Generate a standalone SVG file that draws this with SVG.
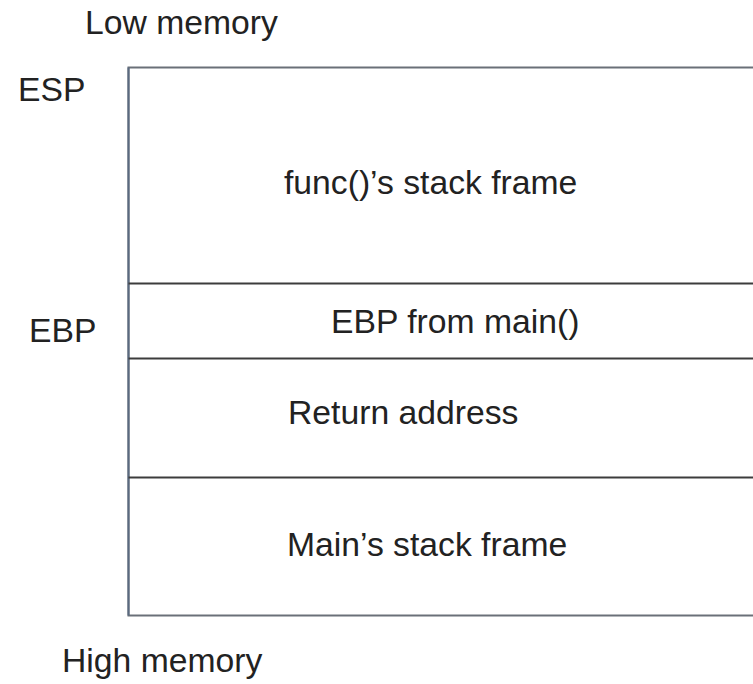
<svg xmlns="http://www.w3.org/2000/svg" width="753" height="684" viewBox="0 0 753 684">
<style>
.t{font-family:"Liberation Sans",Arial,sans-serif;font-size:33.7px;fill:#222}
.div{stroke:#3c3c3c;stroke-width:2}
</style>
<rect x="0" y="0" width="753" height="684" fill="#ffffff"/>
<g id="labels">
<text class="t" x="85" y="34">Low memory</text>
<text class="t" x="18" y="101">ESP</text>
<text class="t" x="29" y="342">EBP</text>
<text class="t" x="62" y="672">High memory</text>
</g>
<g id="stack">
<rect x="128.5" y="67.5" width="640" height="548" fill="#ffffff" stroke="#6a7078" stroke-width="2"/>
<line x1="128.5" y1="67.5" x2="128.5" y2="615.5" stroke="#5a6a80" stroke-width="2"/>
</g>
<g id="connectors">
<line class="div" x1="128.5" y1="283.5" x2="753" y2="283.5"/>
<line class="div" x1="128.5" y1="358.5" x2="753" y2="358.5"/>
<line class="div" x1="128.5" y1="477.5" x2="753" y2="477.5"/>
</g>
<g id="func-frame"><text class="t" x="284" y="194">func()’s stack frame</text></g>
<g id="ebp-main"><text class="t" x="331" y="333">EBP from main()</text></g>
<g id="return-address"><text class="t" x="288" y="424">Return address</text></g>
<g id="main-frame"><text class="t" x="287" y="556">Main’s stack frame</text></g>
</svg>
